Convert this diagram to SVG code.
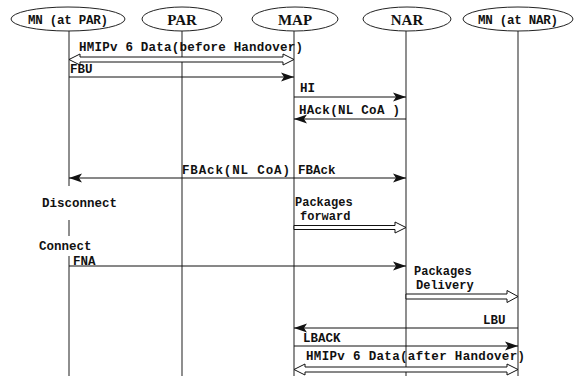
<svg xmlns="http://www.w3.org/2000/svg" width="576" height="376" viewBox="0 0 576 376">
<style>
.node ellipse{fill:#fff;stroke:#222;stroke-width:1}
.nl{font-family:"Liberation Serif",serif;font-weight:bold;font-size:15px;fill:#111;text-anchor:middle}
.nm{font-family:"Liberation Mono",monospace;font-weight:bold;font-size:12.5px;fill:#111;text-anchor:middle}
.life{stroke:#444;stroke-width:1.2;fill:none}
.msg{stroke:#111;stroke-width:1;fill:none;marker-end:url(#ah)}
.hol{fill:#fff;stroke:#111;stroke-width:1}
.lbl{font-family:"Liberation Mono",monospace;font-weight:bold;font-size:12.5px;fill:#111}
.sm{font-size:12px}
</style>
<defs>
<marker id="ah" markerUnits="userSpaceOnUse" markerWidth="14" markerHeight="10" refX="13" refY="5" orient="auto">
<path d="M0,0.5 L13,5 L0,9.5 L3,5 z" fill="#111"/>
</marker>
</defs>
<rect width="576" height="376" fill="#fff"/>
<g id="lifelines">
<path class="life" d="M69,31 V186 M69,220 V236 M69,256 V376"/>
<path class="life" d="M182,31 V376"/>
<path class="life" d="M294,31 V376"/>
<path class="life" d="M406,31 V376"/>
<path class="life" d="M518,31 V376"/>
</g>
<g id="mn-par" class="node"><ellipse cx="68" cy="19" rx="57" ry="12"/><text class="nm" x="68" y="24" textLength="80">MN (at PAR)</text></g>
<g id="par" class="node"><ellipse cx="182" cy="19" rx="40" ry="12"/><text class="nl" x="182" y="24.5">PAR</text></g>
<g id="map" class="node"><ellipse cx="295" cy="19" rx="43" ry="12"/><text class="nl" x="295" y="24.5">MAP</text></g>
<g id="nar" class="node"><ellipse cx="407" cy="19" rx="44" ry="12"/><text class="nl" x="407" y="24.5">NAR</text></g>
<g id="mn-nar" class="node"><ellipse cx="518" cy="19" rx="55" ry="12"/><text class="nm" x="518" y="24" textLength="80">MN (at NAR)</text></g>
<g id="connectors">
<polygon class="hol" points="69,59.5 80,54 80,57 283,57 283,54 294,59.5 283,65 283,62 80,62 80,65"/>
<line class="msg" x1="69" y1="77" x2="294" y2="77"/>
<line class="msg" x1="294" y1="97" x2="406" y2="97"/>
<line class="msg" x1="406" y1="119" x2="294" y2="119"/>
<line class="msg" x1="294" y1="178" x2="69" y2="178"/>
<line class="msg" x1="294" y1="178" x2="406" y2="178"/>
<polygon class="hol" points="294,225.5 395,225.5 395,222 406,227.5 395,233 395,229.5 294,229.5"/>
<line class="msg" x1="69" y1="266" x2="406" y2="266"/>
<polygon class="hol" points="406,294 507,294 507,290.5 518,296.5 507,302.5 507,299 406,299"/>
<line class="msg" x1="518" y1="328" x2="294" y2="328"/>
<line class="msg" x1="294" y1="346" x2="518" y2="346"/>
<polygon class="hol" points="294,369.5 305,364 305,367 507,367 507,364 518,369.5 507,375 507,372 305,372 305,375"/>
</g>
<g id="labels">
<text class="lbl" x="79" y="51" textLength="224">HMIPv 6 Data(before Handover)</text>
<text class="lbl" x="70" y="73">FBU</text>
<text class="lbl" x="300" y="92">HI</text>
<text class="lbl" x="299" y="114" textLength="101">HAck(NL CoA )</text>
<text class="lbl" x="182" y="174" textLength="108">FBAck(NL CoA)</text>
<text class="lbl" x="298" y="174">FBAck</text>
<text class="lbl" x="42" y="207">Disconnect</text>
<text class="lbl sm" x="295" y="206">Packages</text>
<text class="lbl sm" x="300" y="220">forward</text>
<text class="lbl" x="39" y="250">Connect</text>
<text class="lbl" x="73" y="265">FNA</text>
<text class="lbl sm" x="414" y="275">Packages</text>
<text class="lbl sm" x="416" y="289">Delivery</text>
<text class="lbl" x="483" y="324">LBU</text>
<text class="lbl" x="303" y="342">LBACK</text>
<text class="lbl" x="306" y="360" textLength="219">HMIPv 6 Data(after Handover)</text>
</g>
</svg>
